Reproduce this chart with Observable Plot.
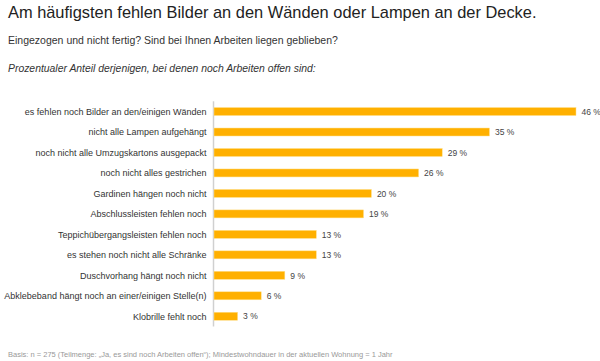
<!DOCTYPE html>
<html>
<head>
<meta charset="utf-8">
<script src="https://cdn.jsdelivr.net/npm/d3@7"></script>
<script src="https://cdn.jsdelivr.net/npm/@observablehq/plot@0.6"></script>
<style>
  html, body { margin: 0; padding: 0; background: #fff; }
  body { width: 600px; height: 361px; overflow: hidden; font-family: "Liberation Sans", Arial, sans-serif; position: relative; }
  #header { position: relative; height: 96px; }
  #title { position: absolute; left: 8px; top: 3px; font-size: 16.4px; color: #222; white-space: nowrap; }
  #subtitle { position: absolute; left: 8px; top: 34px; font-size: 10.5px; color: #333; white-space: nowrap; }
  #note { position: absolute; left: 8px; top: 63px; font-size: 10.4px; font-style: italic; color: #333; white-space: nowrap; }
  #chart svg { display: block; }
  #footer { position: absolute; left: 8px; top: 350px; font-size: 7.5px; color: #999; white-space: nowrap; }
</style>
</head>
<body>
<div id="header">
  <div id="title">Am häufigsten fehlen Bilder an den Wänden oder Lampen an der Decke.</div>
  <div id="subtitle">Eingezogen und nicht fertig? Sind bei Ihnen Arbeiten liegen geblieben?</div>
  <div id="note">Prozentualer Anteil derjenigen, bei denen noch Arbeiten offen sind:</div>
</div>
<div id="chart"></div>
<div id="footer">Basis: n = 275 (Teilmenge: „Ja, es sind noch Arbeiten offen“); Mindestwohndauer in der aktuellen Wohnung = 1 Jahr</div>
<script>
const categories = [
  "es fehlen noch Bilder an den/einigen Wänden",
  "nicht alle Lampen aufgehängt",
  "noch nicht alle Umzugskartons ausgepackt",
  "noch nicht alles gestrichen",
  "Gardinen hängen noch nicht",
  "Abschlussleisten fehlen noch",
  "Teppichübergangsleisten fehlen noch",
  "es stehen noch nicht alle Schränke",
  "Duschvorhang hängt noch nicht",
  "Abklebeband hängt noch an einer/einigen Stelle(n)",
  "Klobrille fehlt noch"
];
const values = [46, 35, 29, 26, 20, 19, 13, 13, 9, 6, 3];
const data = categories.map((c, i) => ({category: c, value: values[i]}));

const chart = Plot.plot({
  width: 600,
  height: 240,
  marginTop: 5.3,
  marginBottom: 9.5,
  marginLeft: 214,
  marginRight: 24,
  style: {fontFamily: "Liberation Sans, Arial, sans-serif", color: "#333", background: "#fff"},
  x: {domain: [0, 46], axis: null},
  y: {domain: categories, paddingInner: 0.61, paddingOuter: 0.305, round: false, axis: null},
  marks: [
    Plot.axisY({tickSize: 0, tickPadding: 8, fontSize: 9, label: null, fill: "#333"}),
    Plot.ruleX([0], {stroke: "#d0d0d0", strokeWidth: 1.5, dx: -1}),
    Plot.barX(data, {y: "category", x: "value", fill: "#FFB000", stroke: "#FFE08A", strokeWidth: 0.5}),
    Plot.text(data, {y: "category", x: "value", text: d => `${d.value} %`, textAnchor: "start", dx: 5, fontSize: 8.5, fill: "#444"})
  ]
});
document.getElementById("chart").appendChild(chart);
</script>
</body>
</html>
